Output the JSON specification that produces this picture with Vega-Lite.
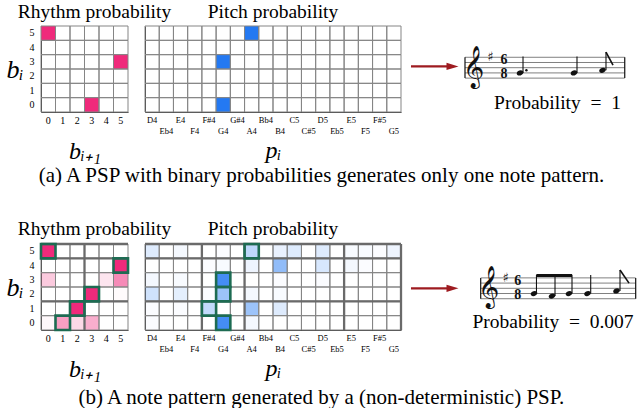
{
  "$schema": "https://vega.github.io/schema/vega-lite/v6.json",
  "background": "white",
  "padding": {"left": 5, "top": 2, "right": 0, "bottom": 0},
  "config": {
    "view": {"stroke": null},
    "font": "Liberation Serif",
    "title": {"font": "Liberation Serif", "fontSize": 19.5, "fontWeight": "normal", "color": "#000"},
    "axis": {"labelFont": "Liberation Serif", "titleFont": "Liberation Serif", "labelColor": "#000", "titleColor": "#000", "grid": false, "ticks": false, "domainColor": "#333", "zindex": 1, "labelAngle": 0, "titleFontWeight": "normal", "labelOverlap": false}
  },
  "datasets": {
    "rhythmA": [
      {"cur":5,"next":0,"v":1},{"cur":5,"next":1,"v":0},{"cur":5,"next":2,"v":0},{"cur":5,"next":3,"v":0},{"cur":5,"next":4,"v":0},{"cur":5,"next":5,"v":0},
      {"cur":4,"next":0,"v":0},{"cur":4,"next":1,"v":0},{"cur":4,"next":2,"v":0},{"cur":4,"next":3,"v":0},{"cur":4,"next":4,"v":0},{"cur":4,"next":5,"v":0},
      {"cur":3,"next":0,"v":0},{"cur":3,"next":1,"v":0},{"cur":3,"next":2,"v":0},{"cur":3,"next":3,"v":0},{"cur":3,"next":4,"v":0},{"cur":3,"next":5,"v":1},
      {"cur":2,"next":0,"v":0},{"cur":2,"next":1,"v":0},{"cur":2,"next":2,"v":0},{"cur":2,"next":3,"v":0},{"cur":2,"next":4,"v":0},{"cur":2,"next":5,"v":0},
      {"cur":1,"next":0,"v":0},{"cur":1,"next":1,"v":0},{"cur":1,"next":2,"v":0},{"cur":1,"next":3,"v":0},{"cur":1,"next":4,"v":0},{"cur":1,"next":5,"v":0},
      {"cur":0,"next":0,"v":0},{"cur":0,"next":1,"v":0},{"cur":0,"next":2,"v":0},{"cur":0,"next":3,"v":1},{"cur":0,"next":4,"v":0},{"cur":0,"next":5,"v":0}
    ],
    "rhythmB": [
      {"cur":5,"next":0,"v":1,"sel":1},{"cur":5,"next":1,"v":0,"sel":0},{"cur":5,"next":2,"v":0,"sel":0},{"cur":5,"next":3,"v":0,"sel":0},{"cur":5,"next":4,"v":0,"sel":0},{"cur":5,"next":5,"v":0,"sel":0},
      {"cur":4,"next":0,"v":0,"sel":0},{"cur":4,"next":1,"v":0,"sel":0},{"cur":4,"next":2,"v":0,"sel":0},{"cur":4,"next":3,"v":0,"sel":0},{"cur":4,"next":4,"v":0,"sel":0},{"cur":4,"next":5,"v":1,"sel":1},
      {"cur":3,"next":0,"v":0.25,"sel":0},{"cur":3,"next":1,"v":0,"sel":0},{"cur":3,"next":2,"v":0,"sel":0},{"cur":3,"next":3,"v":0,"sel":0},{"cur":3,"next":4,"v":0.12,"sel":0},{"cur":3,"next":5,"v":0.55,"sel":0},
      {"cur":2,"next":0,"v":0,"sel":0},{"cur":2,"next":1,"v":0,"sel":0},{"cur":2,"next":2,"v":0,"sel":0},{"cur":2,"next":3,"v":1,"sel":1},{"cur":2,"next":4,"v":0,"sel":0},{"cur":2,"next":5,"v":0.02,"sel":0},
      {"cur":1,"next":0,"v":0,"sel":0},{"cur":1,"next":1,"v":0,"sel":0},{"cur":1,"next":2,"v":1,"sel":1},{"cur":1,"next":3,"v":0,"sel":0},{"cur":1,"next":4,"v":0,"sel":0},{"cur":1,"next":5,"v":0,"sel":0},
      {"cur":0,"next":0,"v":0.03,"sel":0},{"cur":0,"next":1,"v":0.45,"sel":1},{"cur":0,"next":2,"v":0.18,"sel":0},{"cur":0,"next":3,"v":0.38,"sel":0},{"cur":0,"next":4,"v":0,"sel":0},{"cur":0,"next":5,"v":0,"sel":0}
    ],
    "pitchA": [
      {"cur":5,"pitch":"D4","v":0},{"cur":5,"pitch":"Eb4","v":0},{"cur":5,"pitch":"E4","v":0},{"cur":5,"pitch":"F4","v":0},{"cur":5,"pitch":"F#4","v":0},{"cur":5,"pitch":"G4","v":0},{"cur":5,"pitch":"G#4","v":0},{"cur":5,"pitch":"A4","v":1},{"cur":5,"pitch":"Bb4","v":0},{"cur":5,"pitch":"B4","v":0},{"cur":5,"pitch":"C5","v":0},{"cur":5,"pitch":"C#5","v":0},{"cur":5,"pitch":"D5","v":0},{"cur":5,"pitch":"Eb5","v":0},{"cur":5,"pitch":"E5","v":0},{"cur":5,"pitch":"F5","v":0},{"cur":5,"pitch":"F#5","v":0},{"cur":5,"pitch":"G5","v":0},
      {"cur":4,"pitch":"D4","v":0},{"cur":4,"pitch":"Eb4","v":0},{"cur":4,"pitch":"E4","v":0},{"cur":4,"pitch":"F4","v":0},{"cur":4,"pitch":"F#4","v":0},{"cur":4,"pitch":"G4","v":0},{"cur":4,"pitch":"G#4","v":0},{"cur":4,"pitch":"A4","v":0},{"cur":4,"pitch":"Bb4","v":0},{"cur":4,"pitch":"B4","v":0},{"cur":4,"pitch":"C5","v":0},{"cur":4,"pitch":"C#5","v":0},{"cur":4,"pitch":"D5","v":0},{"cur":4,"pitch":"Eb5","v":0},{"cur":4,"pitch":"E5","v":0},{"cur":4,"pitch":"F5","v":0},{"cur":4,"pitch":"F#5","v":0},{"cur":4,"pitch":"G5","v":0},
      {"cur":3,"pitch":"D4","v":0},{"cur":3,"pitch":"Eb4","v":0},{"cur":3,"pitch":"E4","v":0},{"cur":3,"pitch":"F4","v":0},{"cur":3,"pitch":"F#4","v":0},{"cur":3,"pitch":"G4","v":1},{"cur":3,"pitch":"G#4","v":0},{"cur":3,"pitch":"A4","v":0},{"cur":3,"pitch":"Bb4","v":0},{"cur":3,"pitch":"B4","v":0},{"cur":3,"pitch":"C5","v":0},{"cur":3,"pitch":"C#5","v":0},{"cur":3,"pitch":"D5","v":0},{"cur":3,"pitch":"Eb5","v":0},{"cur":3,"pitch":"E5","v":0},{"cur":3,"pitch":"F5","v":0},{"cur":3,"pitch":"F#5","v":0},{"cur":3,"pitch":"G5","v":0},
      {"cur":2,"pitch":"D4","v":0},{"cur":2,"pitch":"Eb4","v":0},{"cur":2,"pitch":"E4","v":0},{"cur":2,"pitch":"F4","v":0},{"cur":2,"pitch":"F#4","v":0},{"cur":2,"pitch":"G4","v":0},{"cur":2,"pitch":"G#4","v":0},{"cur":2,"pitch":"A4","v":0},{"cur":2,"pitch":"Bb4","v":0},{"cur":2,"pitch":"B4","v":0},{"cur":2,"pitch":"C5","v":0},{"cur":2,"pitch":"C#5","v":0},{"cur":2,"pitch":"D5","v":0},{"cur":2,"pitch":"Eb5","v":0},{"cur":2,"pitch":"E5","v":0},{"cur":2,"pitch":"F5","v":0},{"cur":2,"pitch":"F#5","v":0},{"cur":2,"pitch":"G5","v":0},
      {"cur":1,"pitch":"D4","v":0},{"cur":1,"pitch":"Eb4","v":0},{"cur":1,"pitch":"E4","v":0},{"cur":1,"pitch":"F4","v":0},{"cur":1,"pitch":"F#4","v":0},{"cur":1,"pitch":"G4","v":0},{"cur":1,"pitch":"G#4","v":0},{"cur":1,"pitch":"A4","v":0},{"cur":1,"pitch":"Bb4","v":0},{"cur":1,"pitch":"B4","v":0},{"cur":1,"pitch":"C5","v":0},{"cur":1,"pitch":"C#5","v":0},{"cur":1,"pitch":"D5","v":0},{"cur":1,"pitch":"Eb5","v":0},{"cur":1,"pitch":"E5","v":0},{"cur":1,"pitch":"F5","v":0},{"cur":1,"pitch":"F#5","v":0},{"cur":1,"pitch":"G5","v":0},
      {"cur":0,"pitch":"D4","v":0},{"cur":0,"pitch":"Eb4","v":0},{"cur":0,"pitch":"E4","v":0},{"cur":0,"pitch":"F4","v":0},{"cur":0,"pitch":"F#4","v":0},{"cur":0,"pitch":"G4","v":1},{"cur":0,"pitch":"G#4","v":0},{"cur":0,"pitch":"A4","v":0},{"cur":0,"pitch":"Bb4","v":0},{"cur":0,"pitch":"B4","v":0},{"cur":0,"pitch":"C5","v":0},{"cur":0,"pitch":"C#5","v":0},{"cur":0,"pitch":"D5","v":0},{"cur":0,"pitch":"Eb5","v":0},{"cur":0,"pitch":"E5","v":0},{"cur":0,"pitch":"F5","v":0},{"cur":0,"pitch":"F#5","v":0},{"cur":0,"pitch":"G5","v":0}
    ],
    "pitchB": [
      {"cur":5,"pitch":"D4","v":0.15,"sel":0},{"cur":5,"pitch":"Eb4","v":0,"sel":0},{"cur":5,"pitch":"E4","v":0.05,"sel":0},{"cur":5,"pitch":"F4","v":0,"sel":0},{"cur":5,"pitch":"F#4","v":0,"sel":0},{"cur":5,"pitch":"G4","v":0.02,"sel":0},{"cur":5,"pitch":"G#4","v":0,"sel":0},{"cur":5,"pitch":"A4","v":0.3,"sel":1},{"cur":5,"pitch":"Bb4","v":0,"sel":0},{"cur":5,"pitch":"B4","v":0.1,"sel":0},{"cur":5,"pitch":"C5","v":0.15,"sel":0},{"cur":5,"pitch":"C#5","v":0,"sel":0},{"cur":5,"pitch":"D5","v":0.15,"sel":0},{"cur":5,"pitch":"Eb5","v":0,"sel":0},{"cur":5,"pitch":"E5","v":0.03,"sel":0},{"cur":5,"pitch":"F5","v":0.03,"sel":0},{"cur":5,"pitch":"F#5","v":0.02,"sel":0},{"cur":5,"pitch":"G5","v":0.08,"sel":0},
      {"cur":4,"pitch":"D4","v":0,"sel":0},{"cur":4,"pitch":"Eb4","v":0,"sel":0},{"cur":4,"pitch":"E4","v":0,"sel":0},{"cur":4,"pitch":"F4","v":0,"sel":0},{"cur":4,"pitch":"F#4","v":0.02,"sel":0},{"cur":4,"pitch":"G4","v":0.03,"sel":0},{"cur":4,"pitch":"G#4","v":0,"sel":0},{"cur":4,"pitch":"A4","v":0.08,"sel":0},{"cur":4,"pitch":"Bb4","v":0,"sel":0},{"cur":4,"pitch":"B4","v":0.5,"sel":0},{"cur":4,"pitch":"C5","v":0,"sel":0},{"cur":4,"pitch":"C#5","v":0,"sel":0},{"cur":4,"pitch":"D5","v":0.18,"sel":0},{"cur":4,"pitch":"Eb5","v":0,"sel":0},{"cur":4,"pitch":"E5","v":0.05,"sel":0},{"cur":4,"pitch":"F5","v":0.02,"sel":0},{"cur":4,"pitch":"F#5","v":0,"sel":0},{"cur":4,"pitch":"G5","v":0,"sel":0},
      {"cur":3,"pitch":"D4","v":0.05,"sel":0},{"cur":3,"pitch":"Eb4","v":0,"sel":0},{"cur":3,"pitch":"E4","v":0.03,"sel":0},{"cur":3,"pitch":"F4","v":0,"sel":0},{"cur":3,"pitch":"F#4","v":0,"sel":0},{"cur":3,"pitch":"G4","v":0.85,"sel":1},{"cur":3,"pitch":"G#4","v":0,"sel":0},{"cur":3,"pitch":"A4","v":0,"sel":0},{"cur":3,"pitch":"Bb4","v":0,"sel":0},{"cur":3,"pitch":"B4","v":0.02,"sel":0},{"cur":3,"pitch":"C5","v":0,"sel":0},{"cur":3,"pitch":"C#5","v":0,"sel":0},{"cur":3,"pitch":"D5","v":0.02,"sel":0},{"cur":3,"pitch":"Eb5","v":0,"sel":0},{"cur":3,"pitch":"E5","v":0,"sel":0},{"cur":3,"pitch":"F5","v":0,"sel":0},{"cur":3,"pitch":"F#5","v":0,"sel":0},{"cur":3,"pitch":"G5","v":0,"sel":0},
      {"cur":2,"pitch":"D4","v":0.22,"sel":0},{"cur":2,"pitch":"Eb4","v":0,"sel":0},{"cur":2,"pitch":"E4","v":0.12,"sel":0},{"cur":2,"pitch":"F4","v":0,"sel":0},{"cur":2,"pitch":"F#4","v":0.02,"sel":0},{"cur":2,"pitch":"G4","v":0.45,"sel":1},{"cur":2,"pitch":"G#4","v":0,"sel":0},{"cur":2,"pitch":"A4","v":0.05,"sel":0},{"cur":2,"pitch":"Bb4","v":0,"sel":0},{"cur":2,"pitch":"B4","v":0.03,"sel":0},{"cur":2,"pitch":"C5","v":0,"sel":0},{"cur":2,"pitch":"C#5","v":0,"sel":0},{"cur":2,"pitch":"D5","v":0,"sel":0},{"cur":2,"pitch":"Eb5","v":0,"sel":0},{"cur":2,"pitch":"E5","v":0,"sel":0},{"cur":2,"pitch":"F5","v":0,"sel":0},{"cur":2,"pitch":"F#5","v":0,"sel":0},{"cur":2,"pitch":"G5","v":0,"sel":0},
      {"cur":1,"pitch":"D4","v":0.02,"sel":0},{"cur":1,"pitch":"Eb4","v":0,"sel":0},{"cur":1,"pitch":"E4","v":0.02,"sel":0},{"cur":1,"pitch":"F4","v":0,"sel":0},{"cur":1,"pitch":"F#4","v":0.28,"sel":1},{"cur":1,"pitch":"G4","v":0,"sel":0},{"cur":1,"pitch":"G#4","v":0,"sel":0},{"cur":1,"pitch":"A4","v":0.45,"sel":0},{"cur":1,"pitch":"Bb4","v":0,"sel":0},{"cur":1,"pitch":"B4","v":0.15,"sel":0},{"cur":1,"pitch":"C5","v":0,"sel":0},{"cur":1,"pitch":"C#5","v":0,"sel":0},{"cur":1,"pitch":"D5","v":0,"sel":0},{"cur":1,"pitch":"Eb5","v":0,"sel":0},{"cur":1,"pitch":"E5","v":0,"sel":0},{"cur":1,"pitch":"F5","v":0,"sel":0},{"cur":1,"pitch":"F#5","v":0,"sel":0},{"cur":1,"pitch":"G5","v":0,"sel":0},
      {"cur":0,"pitch":"D4","v":0.02,"sel":0},{"cur":0,"pitch":"Eb4","v":0,"sel":0},{"cur":0,"pitch":"E4","v":0,"sel":0},{"cur":0,"pitch":"F4","v":0,"sel":0},{"cur":0,"pitch":"F#4","v":0,"sel":0},{"cur":0,"pitch":"G4","v":0.85,"sel":1},{"cur":0,"pitch":"G#4","v":0,"sel":0},{"cur":0,"pitch":"A4","v":0.05,"sel":0},{"cur":0,"pitch":"Bb4","v":0,"sel":0},{"cur":0,"pitch":"B4","v":0,"sel":0},{"cur":0,"pitch":"C5","v":0,"sel":0},{"cur":0,"pitch":"C#5","v":0,"sel":0},{"cur":0,"pitch":"D5","v":0,"sel":0},{"cur":0,"pitch":"Eb5","v":0,"sel":0},{"cur":0,"pitch":"E5","v":0,"sel":0},{"cur":0,"pitch":"F5","v":0,"sel":0},{"cur":0,"pitch":"F#5","v":0,"sel":0},{"cur":0,"pitch":"G5","v":0,"sel":0}
    ],
    "rhythmBVLines": [{"next":3}],
    "pitchBVLines": [{"pitch":"F#4"},{"pitch":"A4"},{"pitch":"E5"}],
    "pitchBRightEdge": [{"pitch":"G5"}],
    "bHLines": [{"cur":5},{"cur":4},{"cur":1}],
    "arrowA": [{"pos":-3.2,"head":15.75,"step":4.5}],
    "staffA": [{"step":0,"pos":21.46,"pos2":94.4},{"step":2,"pos":21.46,"pos2":94.4},{"step":4,"pos":21.46,"pos2":94.4},{"step":6,"pos":21.46,"pos2":94.4},{"step":8,"pos":21.46,"pos2":94.4}],
    "barsA": [{"pos":21.46,"step":0,"step2":8},{"pos":94.4,"step":0,"step2":8}],
    "clefA": [{"pos":25.57,"step":4,"glyph":"𝄞"}],
    "keyA": [{"pos":33.0,"step":8,"glyph":"♯"}],
    "timeA": [{"pos":39.3,"step":6.95,"glyph":"6\n8"}],
    "notesA": [
      {"note":"G4","dur":"dotted quarter","pos":46.58,"step":2,"stemPos":47.95,"stemTop":8.3},
      {"note":"G4","dur":"quarter","pos":71.23,"step":2,"stemPos":72.6,"stemTop":8.3},
      {"note":"A4","dur":"eighth","pos":84.25,"step":3,"stemPos":85.84,"stemTop":10}
    ],
    "dotsA": [{"pos":49.5,"step":3}],
    "flagsA": [{"pos":85.84,"step":10,"pos2":89.04,"step2":5}],
    "probA": [{"pos":63.7,"step":-11.85,"label":"Probability\u2002=\u20021"}],
    "arrowB": [{"pos":-3.2,"head":15.75,"step":4}],
    "staffB": [{"step":0,"pos":28.63,"pos2":99.4},{"step":2,"pos":28.63,"pos2":99.4},{"step":4,"pos":28.63,"pos2":99.4},{"step":6,"pos":28.63,"pos2":99.4},{"step":8,"pos":28.63,"pos2":99.4}],
    "barsB": [{"pos":28.63,"step":0,"step2":8},{"pos":99.4,"step":0,"step2":8}],
    "clefB": [{"pos":32.42,"step":4,"glyph":"𝄞"}],
    "keyB": [{"pos":40.0,"step":8,"glyph":"♯"}],
    "timeB": [{"pos":45.6,"step":6.8,"glyph":"6\n8"}],
    "notesB": [
      {"note":"G4","dur":"eighth","pos":52.97,"step":2,"stemPos":54.1,"stemTop":9.2},
      {"note":"F#4","dur":"eighth","pos":61.19,"step":1,"stemPos":62.56,"stemTop":9.2},
      {"note":"G4","dur":"eighth","pos":68.95,"step":2,"stemPos":70.32,"stemTop":9.2},
      {"note":"G4","dur":"quarter","pos":77.4,"step":2,"stemPos":78.86,"stemTop":9.1},
      {"note":"A4","dur":"eighth","pos":90.64,"step":3,"stemPos":92.24,"stemTop":11}
    ],
    "beamB": [{"pos":54.1,"pos2":70.32,"step":8.9}],
    "flagsB": [{"pos":92.24,"step":11,"pos2":96.35,"step2":6}],
    "probB": [{"pos":61.64,"step":-11.2,"label":"Probability\u2002=\u20020.007"}]
  },
  "vconcat": [
    {
      "title": {"text": "(a) A PSP with binary probabilities generates only one note pattern.", "orient": "bottom", "anchor": "middle", "fontSize": 21, "offset": 2},
      "hconcat": [
        {
          "width": 87, "height": 86,
          "title": {"text": "Rhythm probability", "frame": "group", "anchor": "middle", "dx": 10, "offset": -12, "baseline": "alphabetic"},
          "data": {"name": "rhythmA"},
          "mark": {"type": "rect", "fill": "#ef2a7b", "stroke": "#858585", "strokeWidth": 1},
          "encoding": {
            "x": {"field": "next", "type": "ordinal", "scale": {"domain": [0,1,2,3,4,5], "paddingInner": 0, "paddingOuter": 0}, "axis": {"title": "bᵢ₊₁", "labelFontSize": 10, "labelPadding": 3, "titleFontSize": 24, "titleFontStyle": "italic", "titlePadding": 14}},
            "y": {"field": "cur", "type": "ordinal", "scale": {"domain": [5,4,3,2,1,0], "paddingInner": 0, "paddingOuter": 0}, "axis": {"title": "bᵢ", "labelFontSize": 10, "labelPadding": 7, "titleFontSize": 26, "titleFontStyle": "italic", "titleAngle": 0, "titleAlign": "right", "titleBaseline": "middle", "titlePadding": 6}},
            "fillOpacity": {"field": "v", "type": "quantitative", "scale": {"domain": [0,1], "range": [0,1]}, "legend": null}
          }
        },
        {
          "width": 256, "height": 86,
          "title": {"text": "Pitch probability", "frame": "group", "anchor": "middle", "offset": -12, "baseline": "alphabetic"},
          "data": {"name": "pitchA"},
          "mark": {"type": "rect", "fill": "#2479f2", "stroke": "#858585", "strokeWidth": 1},
          "encoding": {
            "x": {"field": "pitch", "type": "ordinal", "scale": {"domain": ["D4","Eb4","E4","F4","F#4","G4","G#4","A4","Bb4","B4","C5","C#5","D5","Eb5","E5","F5","F#5","G5"], "paddingInner": 0, "paddingOuter": 0}, "axis": {"title": "pᵢ", "labelFontSize": 8.5, "labelPadding": 3, "labelLineHeight": 11, "labelExpr": "indexof(['Eb4','F4','G4','A4','B4','C#5','Eb5','F5','G5'], datum.value) >= 0 ? ['', datum.value] : datum.value", "titleFontSize": 24, "titleFontStyle": "italic", "titlePadding": 4}},
            "y": {"field": "cur", "type": "ordinal", "scale": {"domain": [5,4,3,2,1,0], "paddingInner": 0, "paddingOuter": 0}, "axis": {"title": null, "labels": false}},
            "fillOpacity": {"field": "v", "type": "quantitative", "scale": {"domain": [0,1], "range": [0,1]}, "legend": null}
          }
        },
        {
          "width": 219, "height": 86,
          "layer": [
            {"data": {"name": "arrowA"}, "mark": {"type": "rule", "color": "#9e1b20", "strokeWidth": 2.2},
             "encoding": {"x": {"field": "pos", "type": "quantitative", "scale": {"domain": [0,100], "nice": false, "zero": false}, "axis": null}, "x2": {"field": "head"}, "y": {"field": "step", "type": "quantitative", "scale": {"domain": [-13,20], "nice": false, "zero": false}, "axis": null}}},
            {"data": {"name": "arrowA"}, "mark": {"type": "point", "shape": "M-1,-0.6L1,0L-1,0.6Z", "filled": true, "size": 144, "color": "#9e1b20", "opacity": 1},
             "encoding": {"x": {"field": "head", "type": "quantitative", "scale": {"domain": [0,100], "nice": false, "zero": false}, "axis": null}, "y": {"field": "step", "type": "quantitative", "scale": {"domain": [-13,20], "nice": false, "zero": false}, "axis": null}}},
            {"data": {"name": "staffA"}, "mark": {"type": "rule", "color": "#808080", "strokeWidth": 1},
             "encoding": {"x": {"field": "pos", "type": "quantitative", "scale": {"domain": [0,100], "nice": false, "zero": false}, "axis": null}, "x2": {"field": "pos2"}, "y": {"field": "step", "type": "quantitative", "scale": {"domain": [-13,20], "nice": false, "zero": false}, "axis": null}}},
            {"data": {"name": "barsA"}, "mark": {"type": "rule", "color": "#111", "strokeWidth": 1.2},
             "encoding": {"x": {"field": "pos", "type": "quantitative", "scale": {"domain": [0,100], "nice": false, "zero": false}, "axis": null}, "y": {"field": "step", "type": "quantitative", "scale": {"domain": [-13,20], "nice": false, "zero": false}, "axis": null}, "y2": {"field": "step2"}}},
            {"data": {"name": "clefA"}, "mark": {"type": "text", "font": "DejaVu Sans", "fontSize": 36, "align": "center", "baseline": "middle", "color": "#111"},
             "encoding": {"x": {"field": "pos", "type": "quantitative", "scale": {"domain": [0,100], "nice": false, "zero": false}, "axis": null}, "y": {"field": "step", "type": "quantitative", "scale": {"domain": [-13,20], "nice": false, "zero": false}, "axis": null}, "text": {"field": "glyph"}}},
            {"data": {"name": "keyA"}, "mark": {"type": "text", "font": "DejaVu Sans", "fontSize": 13, "align": "center", "baseline": "middle", "color": "#111"},
             "encoding": {"x": {"field": "pos", "type": "quantitative", "scale": {"domain": [0,100], "nice": false, "zero": false}, "axis": null}, "y": {"field": "step", "type": "quantitative", "scale": {"domain": [-13,20], "nice": false, "zero": false}, "axis": null}, "text": {"field": "glyph"}}},
            {"data": {"name": "timeA"}, "mark": {"type": "text", "font": "Liberation Serif", "fontSize": 14, "fontWeight": "bold", "lineBreak": "\n", "lineHeight": 14, "align": "center", "baseline": "middle", "color": "#111"},
             "encoding": {"x": {"field": "pos", "type": "quantitative", "scale": {"domain": [0,100], "nice": false, "zero": false}, "axis": null}, "y": {"field": "step", "type": "quantitative", "scale": {"domain": [-13,20], "nice": false, "zero": false}, "axis": null}, "text": {"field": "glyph"}}},
            {"data": {"name": "notesA"}, "mark": {"type": "rule", "color": "#111", "strokeWidth": 1.1},
             "encoding": {"x": {"field": "stemPos", "type": "quantitative", "scale": {"domain": [0,100], "nice": false, "zero": false}, "axis": null}, "y": {"field": "step", "type": "quantitative", "scale": {"domain": [-13,20], "nice": false, "zero": false}, "axis": null}, "y2": {"field": "stemTop"}}},
            {"data": {"name": "notesA"}, "mark": {"type": "point", "shape": "M-1,0A1,0.72,-22,1,1,1,0A1,0.72,-22,1,1,-1,0Z", "filled": true, "size": 42, "color": "#111", "opacity": 1},
             "encoding": {"x": {"field": "pos", "type": "quantitative", "scale": {"domain": [0,100], "nice": false, "zero": false}, "axis": null}, "y": {"field": "step", "type": "quantitative", "scale": {"domain": [-13,20], "nice": false, "zero": false}, "axis": null}}},
            {"data": {"name": "dotsA"}, "mark": {"type": "point", "shape": "circle", "filled": true, "size": 6, "color": "#111", "opacity": 1},
             "encoding": {"x": {"field": "pos", "type": "quantitative", "scale": {"domain": [0,100], "nice": false, "zero": false}, "axis": null}, "y": {"field": "step", "type": "quantitative", "scale": {"domain": [-13,20], "nice": false, "zero": false}, "axis": null}}},
            {"data": {"name": "flagsA"}, "mark": {"type": "rule", "color": "#111", "strokeWidth": 1.6},
             "encoding": {"x": {"field": "pos", "type": "quantitative", "scale": {"domain": [0,100], "nice": false, "zero": false}, "axis": null}, "x2": {"field": "pos2"}, "y": {"field": "step", "type": "quantitative", "scale": {"domain": [-13,20], "nice": false, "zero": false}, "axis": null}, "y2": {"field": "step2"}}},
            {"data": {"name": "probA"}, "mark": {"type": "text", "font": "Liberation Serif", "fontSize": 19.5, "align": "center", "baseline": "alphabetic", "color": "#000"},
             "encoding": {"x": {"field": "pos", "type": "quantitative", "scale": {"domain": [0,100], "nice": false, "zero": false}, "axis": null}, "y": {"field": "step", "type": "quantitative", "scale": {"domain": [-13,20], "nice": false, "zero": false}, "axis": null}, "text": {"field": "label"}}}
          ]
        }
      ],
      "spacing": 17,
      "bounds": "flush"
    },
    {
      "title": {"text": "(b) A note pattern generated by a (non-deterministic) PSP.", "orient": "bottom", "anchor": "middle", "fontSize": 21, "offset": 6},
      "hconcat": [
        {
          "width": 87, "height": 86,
          "title": {"text": "Rhythm probability", "frame": "group", "anchor": "middle", "dx": 10, "offset": -12, "baseline": "alphabetic"},
          "layer": [
            {"data": {"name": "rhythmB"}, "mark": {"type": "rect", "fill": "#ef2a7b", "stroke": "#858585", "strokeWidth": 1},
             "encoding": {
               "x": {"field": "next", "type": "ordinal", "scale": {"domain": [0,1,2,3,4,5], "paddingInner": 0, "paddingOuter": 0}, "axis": {"title": "bᵢ₊₁", "labelFontSize": 10, "labelPadding": 3, "titleFontSize": 24, "titleFontStyle": "italic", "titlePadding": 14}},
               "y": {"field": "cur", "type": "ordinal", "scale": {"domain": [5,4,3,2,1,0], "paddingInner": 0, "paddingOuter": 0}, "axis": {"title": "bᵢ", "labelFontSize": 10, "labelPadding": 7, "titleFontSize": 26, "titleFontStyle": "italic", "titleAngle": 0, "titleAlign": "right", "titleBaseline": "middle", "titlePadding": 6}},
               "fillOpacity": {"field": "v", "type": "quantitative", "scale": {"domain": [0,1], "range": [0,1]}, "legend": null}
             }},
            {"data": {"name": "rhythmBVLines"}, "mark": {"type": "rule", "color": "#6a6a6a", "strokeWidth": 2.3},
             "encoding": {"x": {"field": "next", "type": "ordinal", "bandPosition": 0}}},
            {"data": {"name": "bHLines"}, "mark": {"type": "rule", "color": "#6a6a6a", "strokeWidth": 2.3},
             "encoding": {"y": {"field": "cur", "type": "ordinal", "bandPosition": 0}}},
            {"data": {"name": "rhythmB"}, "transform": [{"filter": "datum.sel == 1"}], "mark": {"type": "rect", "filled": false, "stroke": "#1d6b52", "strokeWidth": 2.6},
             "encoding": {"x": {"field": "next", "type": "ordinal"}, "y": {"field": "cur", "type": "ordinal"}}}
          ]
        },
        {
          "width": 256, "height": 86,
          "title": {"text": "Pitch probability", "frame": "group", "anchor": "middle", "offset": -12, "baseline": "alphabetic"},
          "layer": [
            {"data": {"name": "pitchB"}, "mark": {"type": "rect", "fill": "#2479f2", "stroke": "#858585", "strokeWidth": 1},
             "encoding": {
               "x": {"field": "pitch", "type": "ordinal", "scale": {"domain": ["D4","Eb4","E4","F4","F#4","G4","G#4","A4","Bb4","B4","C5","C#5","D5","Eb5","E5","F5","F#5","G5"], "paddingInner": 0, "paddingOuter": 0}, "axis": {"title": "pᵢ", "labelFontSize": 8.5, "labelPadding": 3, "labelLineHeight": 11, "labelExpr": "indexof(['Eb4','F4','G4','A4','B4','C#5','Eb5','F5','G5'], datum.value) >= 0 ? ['', datum.value] : datum.value", "titleFontSize": 24, "titleFontStyle": "italic", "titlePadding": 4}},
               "y": {"field": "cur", "type": "ordinal", "scale": {"domain": [5,4,3,2,1,0], "paddingInner": 0, "paddingOuter": 0}, "axis": {"title": null, "labels": false}},
               "fillOpacity": {"field": "v", "type": "quantitative", "scale": {"domain": [0,1], "range": [0,1]}, "legend": null}
             }},
            {"data": {"name": "pitchBVLines"}, "mark": {"type": "rule", "color": "#6a6a6a", "strokeWidth": 2.3},
             "encoding": {"x": {"field": "pitch", "type": "ordinal", "bandPosition": 0}}},
            {"data": {"name": "pitchBRightEdge"}, "mark": {"type": "rule", "color": "#6a6a6a", "strokeWidth": 2.3},
             "encoding": {"x": {"field": "pitch", "type": "ordinal", "bandPosition": 1}}},
            {"data": {"name": "bHLines"}, "mark": {"type": "rule", "color": "#6a6a6a", "strokeWidth": 2.3},
             "encoding": {"y": {"field": "cur", "type": "ordinal", "bandPosition": 0}}},
            {"data": {"name": "pitchB"}, "transform": [{"filter": "datum.sel == 1"}], "mark": {"type": "rect", "filled": false, "stroke": "#1d6b52", "strokeWidth": 2.6},
             "encoding": {"x": {"field": "pitch", "type": "ordinal"}, "y": {"field": "cur", "type": "ordinal"}}}
          ]
        },
        {
          "width": 219, "height": 86,
          "layer": [
            {"data": {"name": "arrowB"}, "mark": {"type": "rule", "color": "#9e1b20", "strokeWidth": 2.2},
             "encoding": {"x": {"field": "pos", "type": "quantitative", "scale": {"domain": [0,100], "nice": false, "zero": false}, "axis": null}, "x2": {"field": "head"}, "y": {"field": "step", "type": "quantitative", "scale": {"domain": [-12,21], "nice": false, "zero": false}, "axis": null}}},
            {"data": {"name": "arrowB"}, "mark": {"type": "point", "shape": "M-1,-0.6L1,0L-1,0.6Z", "filled": true, "size": 144, "color": "#9e1b20", "opacity": 1},
             "encoding": {"x": {"field": "head", "type": "quantitative", "scale": {"domain": [0,100], "nice": false, "zero": false}, "axis": null}, "y": {"field": "step", "type": "quantitative", "scale": {"domain": [-12,21], "nice": false, "zero": false}, "axis": null}}},
            {"data": {"name": "staffB"}, "mark": {"type": "rule", "color": "#808080", "strokeWidth": 1},
             "encoding": {"x": {"field": "pos", "type": "quantitative", "scale": {"domain": [0,100], "nice": false, "zero": false}, "axis": null}, "x2": {"field": "pos2"}, "y": {"field": "step", "type": "quantitative", "scale": {"domain": [-12,21], "nice": false, "zero": false}, "axis": null}}},
            {"data": {"name": "barsB"}, "mark": {"type": "rule", "color": "#111", "strokeWidth": 1.2},
             "encoding": {"x": {"field": "pos", "type": "quantitative", "scale": {"domain": [0,100], "nice": false, "zero": false}, "axis": null}, "y": {"field": "step", "type": "quantitative", "scale": {"domain": [-12,21], "nice": false, "zero": false}, "axis": null}, "y2": {"field": "step2"}}},
            {"data": {"name": "clefB"}, "mark": {"type": "text", "font": "DejaVu Sans", "fontSize": 36, "align": "center", "baseline": "middle", "color": "#111"},
             "encoding": {"x": {"field": "pos", "type": "quantitative", "scale": {"domain": [0,100], "nice": false, "zero": false}, "axis": null}, "y": {"field": "step", "type": "quantitative", "scale": {"domain": [-12,21], "nice": false, "zero": false}, "axis": null}, "text": {"field": "glyph"}}},
            {"data": {"name": "keyB"}, "mark": {"type": "text", "font": "DejaVu Sans", "fontSize": 13, "align": "center", "baseline": "middle", "color": "#111"},
             "encoding": {"x": {"field": "pos", "type": "quantitative", "scale": {"domain": [0,100], "nice": false, "zero": false}, "axis": null}, "y": {"field": "step", "type": "quantitative", "scale": {"domain": [-12,21], "nice": false, "zero": false}, "axis": null}, "text": {"field": "glyph"}}},
            {"data": {"name": "timeB"}, "mark": {"type": "text", "font": "Liberation Serif", "fontSize": 14, "fontWeight": "bold", "lineBreak": "\n", "lineHeight": 14, "align": "center", "baseline": "middle", "color": "#111"},
             "encoding": {"x": {"field": "pos", "type": "quantitative", "scale": {"domain": [0,100], "nice": false, "zero": false}, "axis": null}, "y": {"field": "step", "type": "quantitative", "scale": {"domain": [-12,21], "nice": false, "zero": false}, "axis": null}, "text": {"field": "glyph"}}},
            {"data": {"name": "notesB"}, "mark": {"type": "rule", "color": "#111", "strokeWidth": 1.1},
             "encoding": {"x": {"field": "stemPos", "type": "quantitative", "scale": {"domain": [0,100], "nice": false, "zero": false}, "axis": null}, "y": {"field": "step", "type": "quantitative", "scale": {"domain": [-12,21], "nice": false, "zero": false}, "axis": null}, "y2": {"field": "stemTop"}}},
            {"data": {"name": "notesB"}, "mark": {"type": "point", "shape": "M-1,0A1,0.72,-22,1,1,1,0A1,0.72,-22,1,1,-1,0Z", "filled": true, "size": 42, "color": "#111", "opacity": 1},
             "encoding": {"x": {"field": "pos", "type": "quantitative", "scale": {"domain": [0,100], "nice": false, "zero": false}, "axis": null}, "y": {"field": "step", "type": "quantitative", "scale": {"domain": [-12,21], "nice": false, "zero": false}, "axis": null}}},
            {"data": {"name": "beamB"}, "mark": {"type": "rule", "color": "#111", "strokeWidth": 3},
             "encoding": {"x": {"field": "pos", "type": "quantitative", "scale": {"domain": [0,100], "nice": false, "zero": false}, "axis": null}, "x2": {"field": "pos2"}, "y": {"field": "step", "type": "quantitative", "scale": {"domain": [-12,21], "nice": false, "zero": false}, "axis": null}}},
            {"data": {"name": "flagsB"}, "mark": {"type": "rule", "color": "#111", "strokeWidth": 1.6},
             "encoding": {"x": {"field": "pos", "type": "quantitative", "scale": {"domain": [0,100], "nice": false, "zero": false}, "axis": null}, "x2": {"field": "pos2"}, "y": {"field": "step", "type": "quantitative", "scale": {"domain": [-12,21], "nice": false, "zero": false}, "axis": null}, "y2": {"field": "step2"}}},
            {"data": {"name": "probB"}, "mark": {"type": "text", "font": "Liberation Serif", "fontSize": 19.5, "align": "center", "baseline": "alphabetic", "color": "#000"},
             "encoding": {"x": {"field": "pos", "type": "quantitative", "scale": {"domain": [0,100], "nice": false, "zero": false}, "axis": null}, "y": {"field": "step", "type": "quantitative", "scale": {"domain": [-12,21], "nice": false, "zero": false}, "axis": null}, "text": {"field": "label"}}}
          ]
        }
      ],
      "spacing": 17,
      "bounds": "flush"
    }
  ],
  "spacing": 218,
  "bounds": "flush"
}
